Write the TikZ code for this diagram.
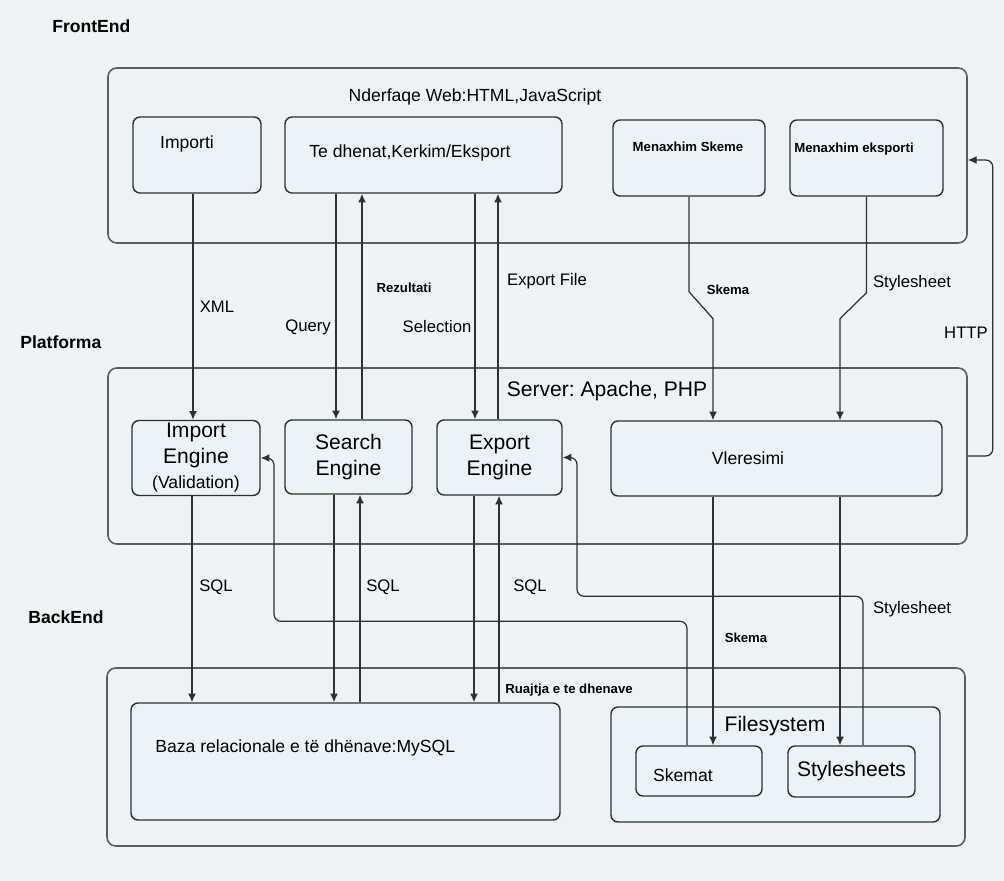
\documentclass[tikz,border=0pt]{standalone}
\usepackage{fontspec}
\setmainfont{Liberation Sans}
\usetikzlibrary{arrows.meta}
\frenchspacing

\definecolor{paper}{HTML}{EEF3F5}
\definecolor{groupfill}{HTML}{EDF2F4}
\definecolor{boxfill}{HTML}{EAF4F8}
\definecolor{ink}{HTML}{303030}
\definecolor{groupline}{HTML}{5C5C5C}

\begin{document}
\begin{tikzpicture}[x=0.02cm, y=-0.02cm,
  sz/.style 2 args={minimum width=#1*0.02cm, minimum height=#2*0.02cm},
  group/.style={draw=groupline, line width=0.9pt, rounded corners=5pt, fill=groupfill, inner sep=0pt},
  box/.style={draw=ink, line width=0.8pt, rounded corners=4pt, fill=boxfill, inner sep=0pt, align=center},
  arr/.style={draw=ink, line width=0.7pt, -{Latex[length=5pt,width=4.5pt]}},
  tag/.style={font=\bfseries\fontsize{10}{12}\selectfont, anchor=west, inner sep=0pt},
  txt/.style={font=\fontsize{10}{12}\selectfont, inner sep=0pt},
  big/.style={font=\fontsize{12}{14.5}\selectfont, inner sep=0pt},
  lbl/.style={font=\fontsize{9.5}{11}\selectfont, inner sep=0pt},
  note/.style={font=\bfseries\fontsize{7.5}{9}\selectfont, inner sep=0pt}]

  % page
  \fill[paper] (0,0) rectangle (1004,881);
  \useasboundingbox (0,0) rectangle (1004,881);

  % FrontEnd
  \node[tag] (frontTag) at (52,26) {FrontEnd};
  \node[group, sz={859}{175}] (front) at (537.5,155.5) {};
  \node[txt] (web) at (475,97) {Nderfaqe Web:HTML,JavaScript};
  \node[box, sz={128}{76}] (importi) at (197,155) {};
  \node[box, sz={277}{76}] (teDhenat) at (423.5,155) {};
  \node[box, sz={152}{76}] (menSkeme) at (689,158) {};
  \node[box, sz={153}{76}] (menEksport) at (866.5,158) {};
  \node[txt] (importiTxt) at (187,144) {Importi};
  \node[txt] (teDhenatTxt) at (410,153) {Te dhenat,Kerkim/Eksport};
  \node[note] (menSkemeTxt) at (688,147) {Menaxhim Skeme};
  \node[note] (menEksportTxt) at (854,149) {Menaxhim eksporti};

  % Platforma
  \node[tag] (platTag) at (20,342) {Platforma};
  \node[group, sz={859}{176}] (platform) at (537.5,456) {};
  \node[big] (server) at (607,391) {Server: Apache, PHP};
  \node[box, sz={128}{75}, font=\fontsize{12}{14.5}\selectfont] (importEng) at (196,458)
    {Import\\Engine\\{\fontsize{10}{11}\selectfont(Validation)}};
  \node[box, sz={127}{74}, font=\fontsize{12}{14.5}\selectfont] (searchEng) at (348.5,457) {Search\\Engine};
  \node[box, sz={125}{75}, font=\fontsize{12}{14.5}\selectfont] (exportEng) at (499.5,457.5) {Export\\Engine};
  \node[box, sz={331}{75}] (vleresimi) at (776.5,458.5) {};
  \node[txt] (vleresimiTxt) at (748,458) {Vleresimi};

  % BackEnd
  \node[tag] (backTag) at (28,617) {BackEnd};
  \node[group, sz={858}{178}] (backend) at (536,757) {};
  \node[box, sz={429}{117}] (db) at (345.5,761.5) {};
  \node[txt, anchor=west] (dbTxt) at (155,748) {Baza relacionale e të dhënave:MySQL};
  \node[note] (ruajtja) at (569,690) {Ruajtja e te dhenave};
  \node[box, sz={329}{115}] (fs) at (775.5,764.5) {};
  \node[big] (fsTxt) at (775,726) {Filesystem};
  \node[box, sz={126}{50}] (skemat) at (699,771) {};
  \node[txt] (skematTxt) at (683,775) {Skemat};
  \node[box, sz={127}{51}, font=\fontsize{12}{14.5}\selectfont] (stylesheets) at (851.5,771.5) {Stylesheets};

  % FrontEnd -> Platforma
  \draw[arr] (importi.south -| 193,0) -- (importEng.north -| 193,0);
  \draw[arr] (teDhenat.south -| 336,0) -- (searchEng.north -| 336,0);
  \draw[arr] (searchEng.north -| 362,0) -- (teDhenat.south -| 362,0);
  \draw[arr] (teDhenat.south -| 475,0) -- (exportEng.north -| 475,0);
  \draw[arr] (exportEng.north -| 498,0) -- (teDhenat.south -| 498,0);
  \draw[arr] (menSkeme.south) -- ++(0,95) -- ++(24,27) -- (vleresimi.north -| 713,0);
  \draw[arr] (menEksport.south) -- ++(0,96) -- ++(-26.5,26) -- (vleresimi.north -| 840,0);
  \draw[arr, rounded corners=4pt] (platform.east) -- ++(25,0) |- ([yshift=-0.09cm]front.east);

  \node[lbl] (xml) at (217,307) {XML};
  \node[lbl] (query) at (308,327) {Query};
  \node[note] (rezultati) at (404,288) {Rezultati};
  \node[lbl] (selection) at (437,327) {Selection};
  \node[lbl] (exportFile) at (547,281) {Export File};
  \node[note] (skemaTop) at (728,290) {Skema};
  \node[lbl] (styleTop) at (912,283) {Stylesheet};
  \node[lbl] (http) at (966,333) {HTTP};

  % Platforma -> BackEnd
  \draw[arr] (importEng.south -| 192,0) -- (db.north -| 192,0);
  \draw[arr] (searchEng.south -| 334,0) -- (db.north -| 334,0);
  \draw[arr] (db.north -| 360,0) -- (searchEng.south -| 360,0);
  \draw[arr] (exportEng.south -| 474,0) -- (db.north -| 474,0);
  \draw[arr] (db.north -| 499,0) -- (exportEng.south -| 499,0);
  \draw[arr] (vleresimi.south -| 713,0) -- (skemat.north -| 713,0);
  \draw[arr] (vleresimi.south -| 840,0) -- (stylesheets.north -| 840,0);
  \draw[arr, rounded corners=4pt] (skemat.north -| 687,0) -- ++(0,-124) -- ++(-413,0) |- (importEng.east);
  \draw[arr, rounded corners=4pt] (stylesheets.north -| 863,0) -- ++(0,-149) -- ++(-286,0) |- (exportEng.east);

  \node[lbl] (sqlImport) at (216,587) {SQL};
  \node[lbl] (sqlSearch) at (383,587) {SQL};
  \node[lbl] (sqlExport) at (530,587) {SQL};
  \node[note] (skemaBot) at (746,638) {Skema};
  \node[lbl] (styleBot) at (912,609) {Stylesheet};
\end{tikzpicture}
\end{document}
